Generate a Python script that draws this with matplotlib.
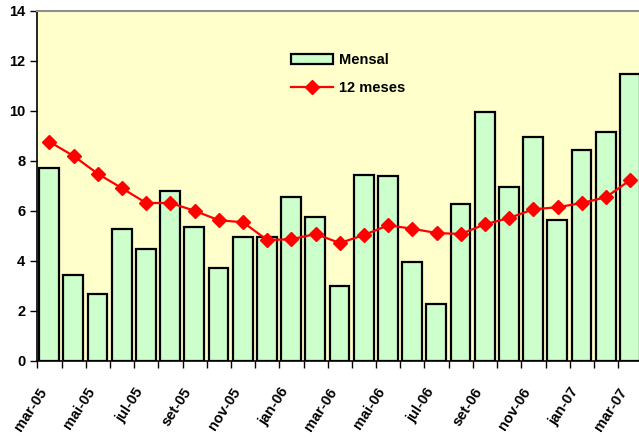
import matplotlib.pyplot as plt
import numpy as np

plt.rcParams['font.family'] = ['Liberation Sans', 'DejaVu Sans']
plt.rcParams['font.weight'] = 'bold'

meses = ['mar-05', 'abr-05', 'mai-05', 'jun-05', 'jul-05', 'ago-05', 'set-05',
         'out-05', 'nov-05', 'dez-05', 'jan-06', 'fev-06', 'mar-06', 'abr-06',
         'mai-06', 'jun-06', 'jul-06', 'ago-06', 'set-06', 'out-06', 'nov-06',
         'dez-06', 'jan-07', 'fev-07', 'mar-07']

mensal = [7.71, 3.43, 2.67, 5.29, 4.47, 6.79, 5.35, 3.72, 4.95, 4.95, 6.55, 5.75,
          3.00, 7.44, 7.40, 3.95, 2.28, 6.28, 9.95, 6.95, 8.95, 5.64, 8.43, 9.15,
          11.48]

doze_meses = [8.77, 8.20, 7.49, 6.91, 6.32, 6.32, 6.01, 5.63, 5.55, 4.84, 4.87,
              5.08, 4.72, 5.04, 5.43, 5.29, 5.12, 5.08, 5.47, 5.72, 6.07, 6.15,
              6.32, 6.55, 7.24]

x = np.arange(len(meses))

fig = plt.figure(figsize=(6.39, 4.45), dpi=100)
ax = fig.add_axes([37.3/639, 84/445, 605/639, 350/445])
ax.set_facecolor('#FFFFCC')

barras = ax.bar(x - 0.01, mensal, width=0.82, color='#CCFFCC', edgecolor='black',
                linewidth=1.6, label='Mensal', zorder=2)
linha, = ax.plot(x, doze_meses, color='#FF0000', linewidth=1.6, marker='D',
                 markersize=7, label='12 meses', zorder=3)

ax.set_xlim(-0.5, len(meses) - 0.5)
ax.set_ylim(0, 14)
ax.set_yticks(np.arange(0, 15, 2))

# tick marks on category boundaries, labels every other month
ax.set_xticks(np.arange(-0.5, len(meses), 1), minor=True)
ax.set_xticks(x[::2])
ax.set_xticklabels(meses[::2], rotation=57, ha='right', va='bottom',
                   rotation_mode='anchor')
ax.tick_params(axis='x', which='major', length=0, pad=23, labelsize=10.5)
ax.tick_params(axis='x', which='minor', length=5, width=1, color='black')
ax.tick_params(axis='y', length=5, width=1, labelsize=10.5)

for s in ['left', 'bottom']:
    ax.spines[s].set_color('black')
    ax.spines[s].set_linewidth(1.2)
ax.spines['top'].set_color('#909090')
ax.spines['top'].set_linewidth(1.5)
ax.spines['right'].set_visible(False)

ax.legend([barras, linha], ['Mensal', '12 meses'], loc='upper left',
          bbox_to_anchor=(278/639, 1 - 40/445),
          bbox_transform=fig.transFigure, frameon=False,
          prop={'weight': 'bold', 'size': 10.5}, handlelength=2.9,
          labelspacing=0.95, handletextpad=0.35)

fig.savefig('out.png', dpi=100)
